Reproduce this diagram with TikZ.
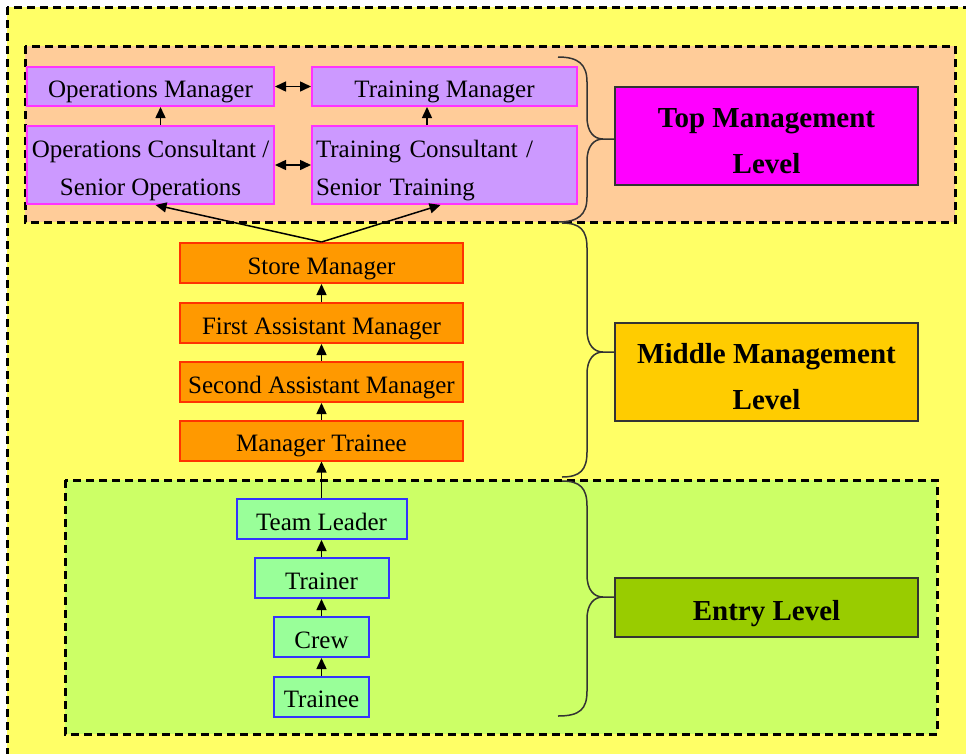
\documentclass[tikz,border=0pt]{standalone}
\usepackage{fontspec}
\setmainfont{Liberation Serif}
\usetikzlibrary{arrows.meta}

\definecolor{bgyellow}{HTML}{FFFF66}
\definecolor{toppeach}{HTML}{FFCC99}
\definecolor{entrygreen}{HTML}{CCFF66}
\definecolor{boxpurple}{HTML}{CC99FF}
\definecolor{borderpink}{HTML}{FF33FF}
\definecolor{boxorange}{HTML}{FF9900}
\definecolor{borderred}{HTML}{FF3300}
\definecolor{boxgreen}{HTML}{99FF99}
\definecolor{borderblue}{HTML}{3333FF}
\definecolor{topmagenta}{HTML}{FF00FF}
\definecolor{midgold}{HTML}{FFCC00}
\definecolor{entryolive}{HTML}{99CC00}

\begin{document}
\begin{tikzpicture}
            [x=1pt,y=-1pt,
             every node/.style={draw,rectangle,inner sep=3pt,text height=22pt,text depth=0pt,
                                font=\fontsize{25}{38}\selectfont},
             purplebox/.style={fill=boxpurple,draw=borderpink,line width=2pt,minimum width=247pt,minimum height=39pt},
             twoline/.style={minimum height=78pt,text height=60pt,text depth=0pt},
             orangebox/.style={fill=boxorange,draw=borderred,line width=2pt,minimum width=283pt,minimum height=40pt},
             greenbox/.style={fill=boxgreen,draw=borderblue,line width=2pt,minimum height=40pt},
             levelbox/.style={draw=black!80,line width=1.5pt,minimum width=303pt,align=center,
                              text height=75pt,font=\fontsize{29}{46}\selectfont\bfseries},
             region/.style={line width=3pt,dash pattern=on 8pt off 5pt},
             arr/.style={-{Triangle[length=11pt,width=10pt]},line width=1.5pt},
             dblarr/.style={{Triangle[length=11pt,width=10pt]}-{Triangle[length=11pt,width=10pt]},line width=1.5pt},
             levelbrace/.style={line width=1.5pt,black!80}]
            \useasboundingbox (0,0) rectangle (966,753);
            \clip (0,0) rectangle (966,753);

            % level areas
            \draw[region,fill=bgyellow] (7,7) rectangle (990,780);
            \draw[region,fill=toppeach] (25,46) rectangle (955,222);
            \draw[region,fill=entrygreen] (65,480) rectangle (937,734);

            % top management
            \node[purplebox] (opsmgr) at (150.5,86.5) {Operations Manager};
            \node[purplebox,minimum width=265pt] (trainmgr) at (444.5,86.5) {Training Manager};
            \node[purplebox,twoline,inner xsep=1pt,align=center] (opscons) at (150.5,165)
                {Operations Consultant /\\Senior Operations};
            \node[purplebox,twoline,minimum width=265pt,inner xsep=4pt,text width=257pt,align=left,
                  text height=22pt,text depth=38pt] (traincons) at (444.5,165)
                {Training Consultant /\\Senior Training};

            % middle management
            \node[orangebox] (store) at (321.5,263) {Store Manager};
            \node[orangebox] (firstasst) at (321.5,323) {First Assistant Manager};
            \node[orangebox] (secondasst) at (321.5,382) {Second Assistant Manager};
            \node[orangebox] (mgrtrainee) at (321.5,440.5) {Manager Trainee};

            % entry level
            \node[greenbox,minimum width=170pt] (teamlead) at (321.5,519) {Team Leader};
            \node[greenbox,minimum width=134pt] (trainer) at (321.5,578) {Trainer};
            \node[greenbox,minimum width=95pt] (crew) at (321.5,637) {Crew};
            \node[greenbox,minimum width=95pt] (trainee) at (321.5,696.5) {Trainee};

            % level labels
            \node[levelbox,fill=topmagenta,minimum height=98pt] (toplevel) at (766.5,136) {Top Management\\Level};
            \node[levelbox,fill=midgold,minimum height=98pt] (midlevel) at (766.5,372) {Middle Management\\Level};
            \node[levelbox,fill=entryolive,minimum height=59pt,text height=25pt] (entrylevel) at (766.5,607.5) {Entry Level};

            % career path
            \foreach \from/\to in {trainee/crew,crew/trainer,trainer/teamlead,teamlead/mgrtrainee,
                                  mgrtrainee/secondasst,secondasst/firstasst,firstasst/store}
                \draw[arr] (\from.north) -- (\to.south);
            \draw[arr] (store.north) -- ([xshift=5pt]opscons.south);
            \draw[arr] (store.north) -- ([xshift=-4pt]traincons.south);
            \draw[arr] ([xshift=10pt]opscons.north) -- ([xshift=10pt]opsmgr.south);
            \draw[arr] ([xshift=-17.5pt]traincons.north) -- ([xshift=-17.5pt]trainmgr.south);
            \draw[dblarr] (opsmgr.east) -- (trainmgr.west);
            \draw[dblarr] (opscons.east) -- (traincons.west);

            % braces
            \draw[levelbrace] (558,57) .. controls (578,57) and (587,64) .. (587,82) -- (587,117)
                .. controls (587,132) and (594,139) .. (603,139) -- (615,139)
                (603,139) .. controls (594,139) and (587,146) .. (587,161) -- (587,197)
                .. controls (587,215) and (578,222) .. (558,222);
            \draw[levelbrace] (562,223) .. controls (580,223) and (587,230) .. (587,248) -- (587,330)
                .. controls (587,345) and (594,352) .. (603,352) -- (615,352)
                (603,352) .. controls (594,352) and (587,359) .. (587,374) -- (587,452)
                .. controls (587,470) and (580,477) .. (562,477);
            \draw[levelbrace] (562,481) .. controls (580,481) and (587,488) .. (587,506) -- (587,575)
                .. controls (587,590) and (594,597) .. (603,597) -- (615,597)
                (603,597) .. controls (594,597) and (587,604) .. (587,619) -- (587,691)
                .. controls (587,709) and (580,716) .. (558,716);
        \end{tikzpicture}
\end{document}
